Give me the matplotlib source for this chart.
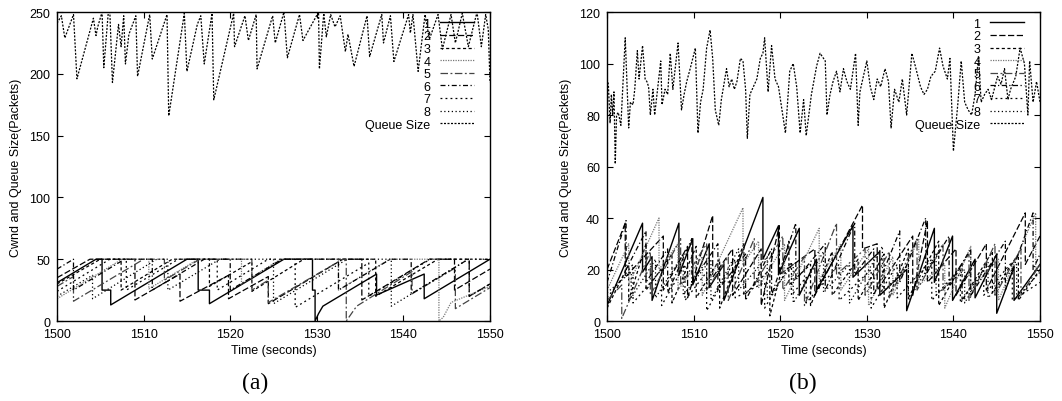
import matplotlib
matplotlib.use("Agg")
import matplotlib.pyplot as plt

plt.rcParams['font.family'] = ['Liberation Sans', 'DejaVu Sans']

# ---------------- Panel (a) data ----------------
qa_t = [1500.0, 1500.5, 1500.9, 1501.9, 1502.3, 1504.2, 1504.5, 1504.7, 1505.2, 1505.4, 1505.9, 1506.1,
        1506.4, 1507.1, 1507.4, 1507.7, 1507.9, 1508.3, 1509.1, 1509.3, 1510.7, 1511.0, 1512.7, 1512.9,
        1514.7, 1515.0, 1516.2, 1516.6, 1517.0, 1517.9, 1518.1, 1520.4, 1520.5, 1521.7, 1522.1, 1523.0,
        1523.1, 1524.9, 1525.2, 1526.2, 1526.6, 1528.0, 1528.4, 1530.2, 1530.3, 1530.8, 1531.1, 1531.6,
        1532.1, 1532.7, 1533.3, 1533.6, 1534.3, 1535.8, 1536.1, 1537.5, 1537.7, 1538.5, 1538.9, 1540.6,
        1540.8, 1541.1, 1541.7, 1542.5, 1543.0, 1544.0, 1544.5, 1545.5, 1546.0, 1546.8, 1547.5, 1548.5,
        1549.0, 1549.5, 1549.8, 1550.0]
qa_v = [241, 247, 229, 248, 196, 245, 231, 238, 250, 205, 248, 250,
        193, 240, 222, 247, 208, 232, 247, 198, 248, 212, 248, 166,
        249, 202, 240, 247, 208, 249, 179, 249, 222, 247, 227, 248,
        204, 247, 225, 250, 213, 248, 227, 250, 204, 249, 230, 248,
        238, 247, 218, 232, 206, 247, 214, 248, 225, 247, 210, 248,
        233, 248, 202, 248, 228, 248, 220, 248, 225, 249, 222, 250,
        222, 248, 236, 193]

ca_t = [
    [1500, 1504.5, 1505.2, 1505.2, 1506.2, 1506.2, 1515.0, 1516.3, 1516.3, 1517.6, 1517.6, 1526.2, 1529.5,
     1529.5, 1529.8, 1529.8, 1530.2, 1530.7, 1536.9, 1536.9, 1542.4, 1542.4, 1550],
    [1500, 1503.8, 1509.0, 1509.0, 1514.2, 1514.2, 1519.8, 1519.8, 1524.4, 1524.4, 1533.0, 1535.2, 1535.2,
     1543.0, 1545.9, 1545.9, 1550],
    [1500, 1505.0, 1507.4, 1507.4, 1513.3, 1517.6, 1517.6, 1522.5, 1522.5, 1528.5, 1536.8, 1536.8, 1544.0,
     1547.6, 1547.6, 1550],
    [1500, 1507.5, 1510.6, 1510.6, 1516.3, 1521.3, 1521.3, 1525.8, 1532.5, 1532.5, 1538.4, 1544.1, 1544.1,
     1544.6, 1545.5, 1550],
    [1500, 1501.9, 1501.9, 1510.0, 1512.4, 1512.4, 1516.5, 1522.5, 1522.5, 1524.4, 1524.4, 1533.0, 1533.4,
     1533.4, 1533.9, 1534.6, 1541.0, 1541.0, 1546.0, 1546.0, 1550],
    [1500, 1501.9, 1501.9, 1507.8, 1511.0, 1511.0, 1517.0, 1520.0, 1520.0, 1526.0, 1532.5, 1532.5, 1538.5,
     1540.9, 1540.9, 1547.5, 1547.6, 1547.6, 1550],
    [1500, 1506.1, 1508.0, 1508.0, 1514.0, 1518.5, 1518.5, 1524.4, 1527.5, 1527.5, 1536.0, 1536.0, 1543.1,
     1550],
    [1500, 1504.1, 1504.1, 1511.5, 1512.8, 1512.8, 1518.8, 1525.0, 1525.0, 1533.5, 1538.6, 1538.6, 1547.5,
     1550],
]
ca_v = [
    [31, 50, 50, 25, 25, 13, 50, 50, 25, 25, 14, 50, 50, 25, 25, 0, 6, 12, 38, 21, 38, 18, 50],
    [35, 50, 50, 17, 38, 16, 37, 18, 36, 14, 50, 50, 17, 50, 50, 25, 42],
    [30, 50, 50, 25, 50, 50, 28, 48, 24, 50, 50, 20, 50, 50, 20, 30],
    [18, 50, 50, 26, 50, 50, 30, 50, 50, 25, 50, 50, 0, 3, 15, 28],
    [28, 36, 16, 50, 50, 33, 50, 50, 25, 33, 15, 50, 50, 0, 5, 12, 40, 22, 43, 10, 27],
    [42, 50, 25, 50, 50, 25, 50, 50, 25, 50, 50, 25, 50, 50, 22, 50, 50, 20, 30],
    [24, 50, 50, 25, 50, 50, 25, 50, 50, 11, 47, 20, 50, 50],
    [20, 37, 18, 50, 50, 25, 50, 50, 14, 50, 50, 12, 50, 50],
]

# ---------------- Panel (b) data ----------------
qb_t = [1500.0, 1500.15, 1500.35, 1500.5, 1500.65, 1500.8, 1500.95, 1501.1, 1501.3, 1501.6, 1502.1,
        1502.5, 1502.7, 1503.0, 1503.2, 1503.5, 1503.7, 1504.1, 1504.4, 1504.6, 1504.8, 1505.0, 1505.3,
        1505.5, 1505.8, 1506.2, 1506.35, 1506.7, 1507.0, 1507.3, 1507.6, 1507.9, 1508.2, 1508.6, 1508.9,
        1509.2, 1509.6, 1510.2, 1510.5, 1510.8, 1511.1, 1511.5, 1511.9, 1512.2, 1512.5, 1512.9, 1513.2,
        1513.8, 1514.1, 1514.4, 1514.7, 1515.0, 1515.4, 1515.7, 1516.0, 1516.2, 1516.5, 1516.9, 1517.3,
        1517.7, 1518.0, 1518.2, 1518.6, 1519.0, 1519.4, 1519.8, 1520.2, 1520.6, 1521.1, 1521.5, 1521.9,
        1522.3, 1522.7, 1523.0, 1523.6, 1524.2, 1524.6, 1525.2, 1525.4, 1525.75, 1526.1, 1526.5, 1526.9,
        1527.3, 1527.7, 1528.1, 1528.7, 1529.0, 1529.2, 1530.0, 1530.4, 1530.8, 1531.2, 1531.6, 1532.1,
        1532.5, 1532.8, 1533.2, 1533.7, 1534.1, 1534.6, 1535.2, 1535.6, 1536.2, 1536.6, 1537.0, 1537.4,
        1537.9, 1538.4, 1538.8, 1539.3, 1539.6, 1540.0, 1540.5, 1540.9, 1541.3, 1541.7, 1542.1, 1542.5,
        1542.9, 1543.2, 1543.6, 1544.0, 1544.4, 1545.1, 1545.5, 1545.9, 1546.3, 1546.6, 1547.2, 1547.7,
        1548.2, 1548.6, 1548.8, 1549.2, 1549.6, 1550.0]
qb_v = [94, 92, 77, 88, 80, 89, 61, 80, 81, 76, 110,
        75, 85, 84, 90, 105, 94, 107, 94, 93, 91, 80, 90,
        80, 89, 101, 84, 90, 88, 104, 90, 99, 108, 82, 88,
        93, 98, 106, 73, 85, 90, 106, 113, 102, 82, 76, 86,
        98, 91, 94, 90, 93, 102, 101, 90, 71, 88, 91, 94,
        102, 104, 110, 89, 107, 94, 91, 82, 73, 97, 100, 91,
        73, 86, 72, 88, 99, 104, 101, 80, 88, 93, 97, 89,
        98, 93, 90, 104, 76, 89, 101, 91, 86, 94, 91, 98,
        93, 75, 90, 85, 94, 80, 104, 99, 91, 88, 90, 95,
        97, 106, 99, 94, 102, 66, 84, 101, 85, 82, 80, 88,
        103, 85, 88, 90, 86, 95, 92, 98, 86, 90, 95, 106,
        100, 80, 101, 85, 93, 85]

# cwnd sawtooth series for panel (b): start value, then teeth (peak time, peak value, value after drop), end value
cb_start = [(1500, 6), (1500, 20), (1500, 5), (1500, 12), (1500, 8), (1500, 15), (1500, 9), (1500, 11)]
cb_teeth = [
    [(1504.1, 38, 19), (1505.2, 25, 8), (1508.3, 38, 18), (1509.9, 32, 14), (1511.8, 30, 13), (1513.5, 22, 8),
     (1518.0, 48, 24), (1519.8, 37, 18), (1522.2, 36, 10), (1524.2, 24, 12), (1528.4, 37, 17), (1531.5, 27, 10),
     (1534.6, 20, 4), (1537.8, 36, 15), (1539.9, 33, 8), (1542.5, 24, 9), (1545.0, 26, 3), (1547.0, 21, 8)],
    [(1502.1, 38, 17), (1506.5, 33, 12), (1509.3, 29, 9), (1512.2, 41, 17), (1514.5, 28, 10), (1517.8, 28, 6),
     (1519.9, 37, 18), (1524.0, 28, 10), (1529.5, 45, 28), (1531.2, 30, 12), (1535.3, 33, 10), (1537.0, 39, 15),
     (1540.3, 28, 10), (1543.8, 30, 12), (1548.3, 42, 22)],
    [(1502.5, 22, 8), (1504.5, 30, 12), (1507.5, 26, 7), (1510.3, 29, 9), (1513.0, 24, 5), (1515.8, 30, 10),
     (1518.8, 20, 2), (1521.0, 31, 14), (1523.5, 22, 6), (1526.0, 27, 10), (1529.0, 24, 8), (1532.0, 26, 5),
     (1534.8, 28, 9), (1538.3, 31, 6), (1541.0, 22, 8), (1544.5, 27, 11), (1547.5, 26, 8)],
    [(1502.5, 30, 14), (1506.0, 40, 20), (1508.2, 30, 12), (1511.0, 25, 10), (1515.7, 44, 22), (1517.5, 31, 13),
     (1520.5, 30, 8), (1524.5, 36, 16), (1527.0, 30, 12), (1530.2, 28, 6), (1533.0, 25, 10), (1536.0, 32, 14),
     (1539.0, 22, 5), (1542.0, 29, 12), (1545.2, 24, 8), (1549.5, 42, 20)],
    [(1501.7, 14, 1), (1505.0, 27, 10), (1508.5, 32, 14), (1511.5, 30, 12), (1514.0, 25, 8), (1517.0, 32, 14),
     (1520.3, 33, 12), (1522.8, 25, 6), (1526.5, 38, 18), (1529.8, 28, 10), (1532.6, 27, 9), (1535.8, 32, 12),
     (1538.8, 30, 12), (1541.8, 26, 8), (1544.8, 30, 10), (1547.8, 28, 10)],
    [(1502.2, 39, 20), (1504.5, 35, 15), (1507.0, 28, 11), (1509.8, 32, 15), (1512.8, 30, 12), (1516.0, 26, 8),
     (1519.0, 28, 10), (1521.8, 38, 16), (1525.2, 30, 12), (1528.6, 38, 18), (1530.8, 28, 10), (1533.8, 35, 15),
     (1536.8, 40, 18), (1539.5, 33, 14), (1542.0, 28, 10), (1546.0, 31, 12), (1549.2, 42, 20)],
    [(1503.0, 22, 7), (1506.3, 20, 6), (1509.0, 22, 8), (1511.5, 19, 4), (1514.8, 24, 9), (1518.2, 15, 5),
     (1521.3, 23, 10), (1523.0, 17, 7), (1526.8, 22, 8), (1530.5, 20, 5), (1533.5, 22, 9), (1537.5, 24, 8),
     (1540.8, 21, 7), (1543.5, 20, 10), (1546.8, 23, 8)],
    [(1502.8, 19, 9), (1505.6, 24, 9), (1508.8, 26, 10), (1512.0, 24, 8), (1515.2, 28, 12), (1518.5, 25, 9),
     (1521.5, 22, 7), (1525.0, 27, 11), (1528.0, 22, 7), (1531.8, 29, 11), (1534.8, 22, 8), (1538.0, 26, 10),
     (1541.3, 20, 7), (1544.0, 23, 9), (1547.3, 22, 9)],
]
cb_end = [(1550, 22), (1550, 33), (1550, 20), (1550, 22), (1550, 22), (1550, 26), (1550, 15), (1550, 19)]

labels = ['1', '2', '3', '4', '5', '6', '7', '8']
queue_label = 'Queue Size'

# ---------------- styles ----------------
styles = [
    dict(color='black', ls='-', lw=1.0),
    dict(color='black', ls=(0, (5, 2)), lw=0.9),
    dict(color='black', ls=(0, (2.5, 2)), lw=0.9),
    dict(color='#777777', ls=(0, (1, 1)), lw=0.9),
    dict(color='#444444', ls=(0, (6, 2, 1.5, 2)), lw=0.9),
    dict(color='black', ls=(0, (4, 2, 1, 2)), lw=0.9),
    dict(color='black', ls=(0, (1.5, 2.5)), lw=0.9),
    dict(color='black', ls=(0, (1, 2)), lw=0.9),
]
qstyle = dict(color='black', ls=(0, (1.6, 1.2)), lw=0.9)


def build_saw(start, teeth, end):
    t = [start[0]]
    v = [start[1]]
    for tp, hi, lo in teeth:
        t += [tp, tp]
        v += [hi, lo]
    t.append(end[0])
    v.append(end[1])
    return t, v


FS = 9

fig = plt.figure(figsize=(10.62, 4.02), dpi=100)
ax_a = fig.add_axes([0.0537, 0.199, 0.4077, 0.7685])
ax_b = fig.add_axes([0.5716, 0.199, 0.4077, 0.7685])

for i in range(8):
    ax_a.plot(ca_t[i], ca_v[i], label=labels[i], **styles[i])
ax_a.plot(qa_t, qa_v, label=queue_label, **qstyle)

for i in range(8):
    t, v = build_saw(cb_start[i], cb_teeth[i], cb_end[i])
    ax_b.plot(t, v, label=labels[i], **styles[i])
ax_b.plot(qb_t, qb_v, label=queue_label, **qstyle)

for ax, ymax, ystep in ((ax_a, 250, 50), (ax_b, 120, 20)):
    ax.set_xlim(1500, 1550)
    ax.set_ylim(0, ymax)
    ax.set_xticks(range(1500, 1551, 10))
    ax.set_yticks(range(0, ymax + 1, ystep))
    ax.tick_params(direction='in', length=4, width=0.8, top=True, right=True, labelsize=FS,
                   colors='black')
    ax.tick_params(axis='x', pad=5)
    ax.tick_params(axis='y', pad=5)
    for s in ax.spines.values():
        s.set_linewidth(1.0)
    ax.set_xlabel('Time (seconds)', fontsize=FS, labelpad=3)
    ax.set_ylabel('Cwnd and Queue Size(Packets)', fontsize=FS, labelpad=5)
    ax.legend(loc='upper right', bbox_to_anchor=(0.972, 0.994), frameon=False, markerfirst=False,
              fontsize=FS, handlelength=2.7, handletextpad=0.8, labelspacing=0.05,
              borderaxespad=0.0, borderpad=0.3)

fig.text(255 / 1062, 1 - 383 / 402, '(a)', ha='center', va='center', fontsize=17,
         family=['Liberation Serif', 'DejaVu Serif'])
fig.text(803 / 1062, 1 - 383 / 402, '(b)', ha='center', va='center', fontsize=17,
         family=['Liberation Serif', 'DejaVu Serif'])

fig.savefig('out.png', dpi=100)
